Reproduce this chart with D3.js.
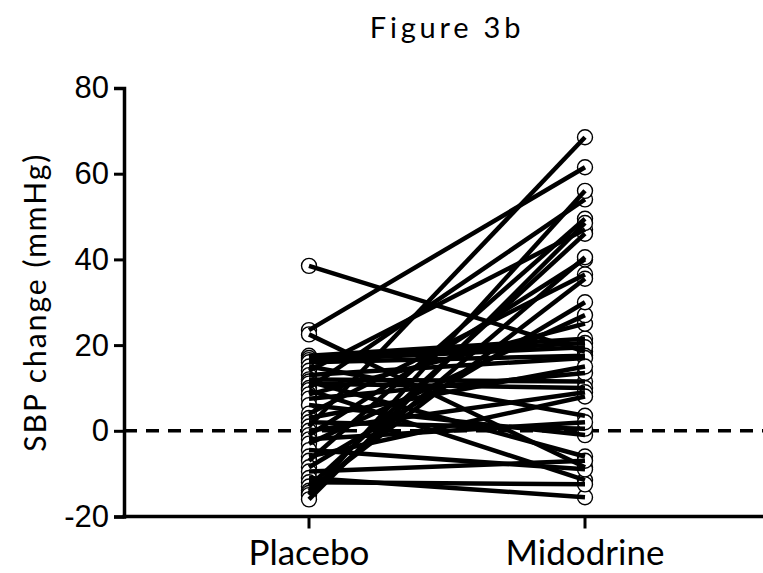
<!DOCTYPE html>
<html>
<head>
<meta charset="utf-8">
<script src="https://cdn.jsdelivr.net/npm/d3@7"></script>
<style>
  body { margin: 0; background: #fff; }
  svg { display: block; font-family: Lato, "Open Sans", sans-serif; }
</style>
</head>
<body>
<svg id="chart" width="763" height="573"></svg>
<script>
// paired SBP change per subject: placebo visit vs midodrine visit
const groups = ['Placebo', 'Midodrine'];
const placebo = [38.5, 23.5, 22.5, 17.5, 17, 16.5, 16, 15, 14, 13, 12, 11.5, 11, 10, 9.5, 8.5, 7.5, 6, 4,
    3, 2, 1, 0, -1, -2, -3, -4.5, -6, -7, -8.5, -9.5, -11, -12, -13, -14, -14.5, -15, -16];
const midodrine = [18.5, 61.5, -8.5, 21.5, 20.5, 19.5, 17.5, 3.5, 47, 17, 11.5, -6, 10, 54, -11.5, 25, 13.5, -1, 36.5,
    15, 0.5, 68.5, 9, 40, 2, 27, -9, 8, 49.5, 30, -7, -15.5, -12.5, 46, 35.5, 40.5, 56, 48.5];
const yTicks = [-20, 0, 20, 40, 60, 80];

const pairs = placebo.map((p, i) => [p, midodrine[i]]);

const svg = d3.select('#chart');
const margin = { top: 88, left: 124, bottom: 56 };
const width = 763, height = 573;

const y = d3.scaleLinear().domain([-20, 80]).range([height - margin.bottom - 0.5, margin.top]);
const x = d3.scalePoint().domain(groups).range([309, 585]);

// title
svg.append('text')
    .attr('x', 447).attr('y', 38)
    .attr('text-anchor', 'middle')
    .attr('font-size', 29)
    .attr('letter-spacing', 3.8)
    .text('Figure 3b');

// y axis (plain hyphen for the minus, as in the original)
const gy = svg.append('g').attr('transform', `translate(${margin.left},0)`)
    .call(d3.axisLeft(y).tickValues(yTicks).tickSize(10).tickPadding(5).tickFormat((d) => String(d)));
gy.select('.domain').attr('stroke-width', 3.5);
gy.selectAll('.tick line').attr('stroke-width', 3);
gy.selectAll('.tick text').attr('font-size', 31).attr('fill', '#000');

svg.append('text')
    .attr('transform', `translate(46,${(y(80) + y(-20)) / 2}) rotate(-90)`)
    .attr('text-anchor', 'middle')
    .attr('font-size', 30)
    .attr('letter-spacing', 2)
    .text('SBP change (mmHg)');

// x axis runs to the right edge
const gx = svg.append('g').attr('transform', `translate(0,${y(-20)})`);
gx.append('line').attr('x1', margin.left - 1.5).attr('x2', width)
    .attr('stroke', '#000').attr('stroke-width', 3.5);
gx.selectAll('.xt').data(groups).join('line')
    .attr('x1', (d) => x(d)).attr('x2', (d) => x(d))
    .attr('y1', 0).attr('y2', 12)
    .attr('stroke', '#000').attr('stroke-width', 3);
gx.selectAll('text').data(groups).join('text')
    .attr('x', (d) => x(d)).attr('y', 48)
    .attr('text-anchor', 'middle')
    .attr('font-size', 35)
    .text((d) => d);

// zero reference
svg.append('line')
    .attr('x1', margin.left).attr('x2', width)
    .attr('y1', y(0)).attr('y2', y(0))
    .attr('stroke', '#000').attr('stroke-width', 3.5)
    .attr('stroke-dasharray', '13,9');

// circles underneath, lines on top
const gDots = svg.append('g');
pairs.forEach((p) => {
    gDots.selectAll(null).data(groups).enter().append('circle')
        .attr('cx', (g) => x(g))
        .attr('cy', (g, i) => y(p[i]))
        .attr('r', 7.5)
        .attr('fill', '#fff')
        .attr('stroke', '#000')
        .attr('stroke-width', 1.4);
});

svg.append('g').selectAll('line').data(pairs).join('line')
    .attr('x1', x('Placebo')).attr('x2', x('Midodrine'))
    .attr('y1', (d) => y(d[0])).attr('y2', (d) => y(d[1]))
    .attr('stroke', '#000')
    .attr('stroke-width', 4.5);
</script>
</body>
</html>
